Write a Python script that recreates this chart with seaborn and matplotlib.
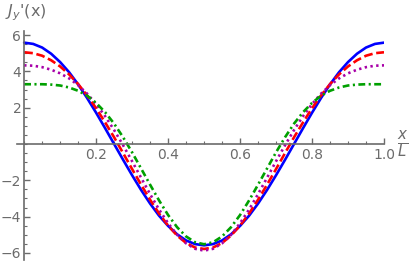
import matplotlib
matplotlib.use("Agg")
import matplotlib.pyplot as plt
import seaborn as sns
import pandas as pd
import numpy as np
from matplotlib.ticker import MultipleLocator

# x/L sample positions
x_pos = [0.000, 0.025, 0.050, 0.075, 0.100, 0.125, 0.150, 0.175, 0.200, 0.225,
         0.250, 0.275, 0.300, 0.325, 0.350, 0.375, 0.400, 0.425, 0.450, 0.475,
         0.500, 0.525, 0.550, 0.575, 0.600, 0.625, 0.650, 0.675, 0.700, 0.725,
         0.750, 0.775, 0.800, 0.825, 0.850, 0.875, 0.900, 0.925, 0.950, 0.975,
         1.000]

# J_y'(x)
j_blue = [5.58, 5.51, 5.31, 4.97, 4.51, 3.95, 3.28, 2.53, 1.72, 0.87,
          0.00, -0.87, -1.72, -2.53, -3.28, -3.95, -4.51, -4.97, -5.31, -5.51,
          -5.58, -5.51, -5.31, -4.97, -4.51, -3.95, -3.28, -2.53, -1.72, -0.87,
          0.00, 0.87, 1.72, 2.53, 3.28, 3.95, 4.51, 4.97, 5.31, 5.51,
          5.58]
j_red = [5.05, 5.00, 4.86, 4.61, 4.27, 3.83, 3.30, 2.67, 1.97, 1.19,
         0.37, -0.50, -1.38, -2.24, -3.07, -3.83, -4.49, -5.04, -5.45, -5.70,
         -5.78, -5.70, -5.45, -5.04, -4.49, -3.83, -3.07, -2.24, -1.38, -0.50,
         0.37, 1.19, 1.97, 2.67, 3.30, 3.83, 4.27, 4.61, 4.86, 5.00,
         5.05]
j_purple = [4.33, 4.31, 4.23, 4.09, 3.89, 3.61, 3.24, 2.77, 2.20, 1.53,
            0.77, -0.07, -0.95, -1.86, -2.76, -3.61, -4.36, -5.00, -5.47, -5.77,
            -5.87, -5.77, -5.47, -5.00, -4.36, -3.61, -2.76, -1.86, -0.95, -0.07,
            0.77, 1.53, 2.20, 2.77, 3.24, 3.61, 3.89, 4.09, 4.23, 4.31,
            4.33]
j_green = [3.29, 3.29, 3.29, 3.27, 3.22, 3.11, 2.93, 2.66, 2.26, 1.75,
           1.12, 0.37, -0.46, -1.35, -2.24, -3.11, -3.91, -4.58, -5.09, -5.41,
           -5.52, -5.41, -5.09, -4.58, -3.91, -3.11, -2.24, -1.35, -0.46, 0.37,
           1.12, 1.75, 2.26, 2.66, 2.93, 3.11, 3.22, 3.27, 3.29, 3.29,
           3.29]

x_ticks = [0.2, 0.4, 0.6, 0.8, 1.0]
y_ticks = [-6, -4, -2, 2, 4, 6]

sns.set_style("white")
plt.rcParams['font.family'] = ['DejaVu Sans']
plt.rcParams['mathtext.fontset'] = 'dejavusans'

fig = plt.figure(figsize=(4.15, 2.64), dpi=100)
ax = fig.add_axes([0.0417, 0.017, 0.8836, 0.8655])

gray = '#6b6b6b'
series = [
    (j_blue, '#0000ff', '-'),
    (j_red, '#ff0000', (0, (3.3, 1.4))),
    (j_purple, '#a800a8', (0, (0.9, 1.3))),
    (j_green, '#00a000', (0, (2.6, 1.3, 0.8, 1.3))),
]
for vals, col, ls in series:
    df = pd.DataFrame({'x': x_pos, 'j': vals})
    sns.lineplot(data=df, x='x', y='j', ax=ax, color=col, linewidth=1.9,
                 linestyle=ls, sort=False)

ax.set_xlim(-0.019, 1.0)
ax.set_ylim(-6.36, 6.22)

for s in ['top', 'right']:
    ax.spines[s].set_visible(False)
ax.spines['left'].set_position(('data', 0))
ax.spines['bottom'].set_position(('data', 0))
for s in ['left', 'bottom']:
    ax.spines[s].set_color(gray)
    ax.spines[s].set_linewidth(1.2)

ax.set_xticks(x_ticks)
ax.set_yticks(y_ticks)
ax.set_xticklabels(['0.2', '0.4', '0.6', '0.8', '1.0'])
ax.set_yticklabels(['\u22126', '\u22124', '\u22122', '2', '4', '6'])
ax.xaxis.set_minor_locator(MultipleLocator(0.05))
ax.yaxis.set_minor_locator(MultipleLocator(0.5))
ax.tick_params(axis='both', which='major', direction='in', length=4, width=1,
               color=gray, labelcolor=gray, labelsize=10, pad=3)
ax.tick_params(axis='y', which='major', pad=2)
ax.tick_params(axis='both', which='minor', direction='in', length=2, width=0.8,
               color=gray)
ax.tick_params(axis='x', which='both', bottom=True)
ax.tick_params(axis='y', which='both', left=True)

ax.set_xlabel('')
ax.set_ylabel('')
fig.text(0.012, 0.952, r"$J_y$'(x)", color=gray, fontsize=11.5, ha='left', va='center')
fig.text(0.971, 0.455, r"$\frac{x}{L}$", color=gray, fontsize=15.5, ha='center', va='center')

fig.savefig('out.png', dpi=100)
